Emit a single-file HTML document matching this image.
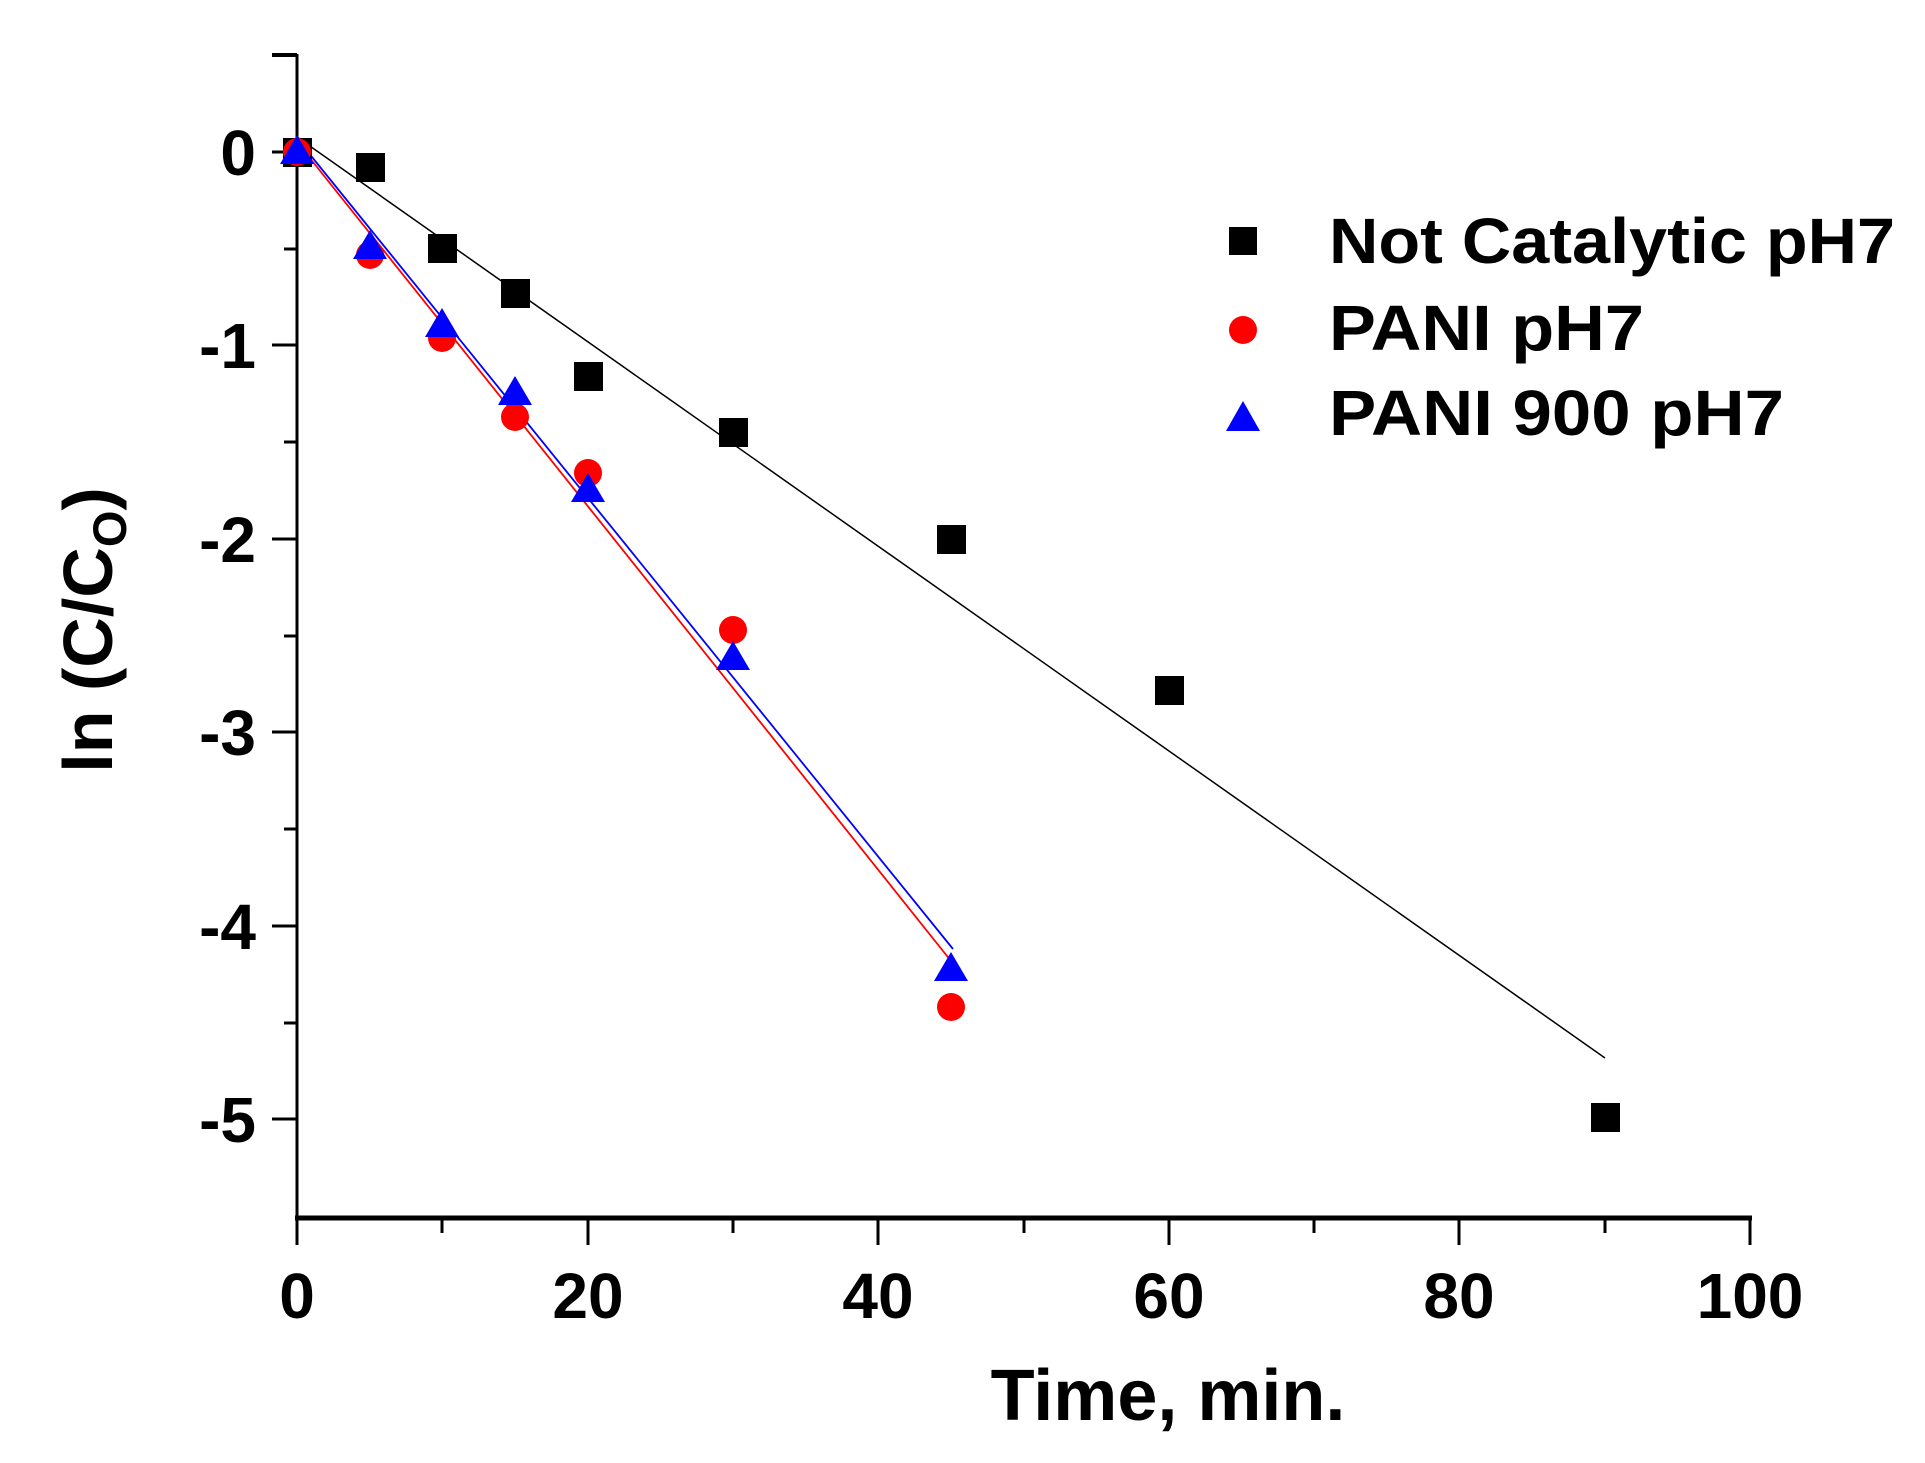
<!DOCTYPE html>
<html><head><meta charset="utf-8"><style>
html,body{margin:0;padding:0;background:#fff;}
svg{display:block;font-family:"Liberation Sans",Arial,sans-serif;font-weight:bold;}
</style></head><body>
<svg width="1925" height="1463" viewBox="0 0 1925 1463" xmlns="http://www.w3.org/2000/svg">
<rect width="1925" height="1463" fill="#fff"/>
<line x1="297" y1="54" x2="297" y2="1218" stroke="#000" stroke-width="3"/>
<line x1="295" y1="1218" x2="1752" y2="1218" stroke="#000" stroke-width="5"/>
<g stroke="#000" stroke-width="3">
<line x1="272" y1="55" x2="297" y2="55" stroke-width="4"/>
<line x1="272" y1="152" x2="297" y2="152"/>
<line x1="284" y1="249" x2="297" y2="249"/>
<line x1="272" y1="345" x2="297" y2="345"/>
<line x1="284" y1="442" x2="297" y2="442"/>
<line x1="272" y1="539" x2="297" y2="539"/>
<line x1="284" y1="636" x2="297" y2="636"/>
<line x1="272" y1="732" x2="297" y2="732"/>
<line x1="284" y1="829" x2="297" y2="829"/>
<line x1="272" y1="926" x2="297" y2="926"/>
<line x1="284" y1="1023" x2="297" y2="1023"/>
<line x1="272" y1="1119" x2="297" y2="1119"/>
<line x1="297" y1="1218" x2="297" y2="1245"/>
<line x1="442" y1="1218" x2="442" y2="1233"/>
<line x1="588" y1="1218" x2="588" y2="1245"/>
<line x1="733" y1="1218" x2="733" y2="1233"/>
<line x1="878" y1="1218" x2="878" y2="1245"/>
<line x1="1024" y1="1218" x2="1024" y2="1233"/>
<line x1="1169" y1="1218" x2="1169" y2="1245"/>
<line x1="1314" y1="1218" x2="1314" y2="1233"/>
<line x1="1459" y1="1218" x2="1459" y2="1245"/>
<line x1="1605" y1="1218" x2="1605" y2="1233"/>
<line x1="1750" y1="1218" x2="1750" y2="1245"/>
</g>
<g font-size="64" text-anchor="end">
<text x="256" y="175">0</text>
<text x="256" y="368">-1</text>
<text x="256" y="562">-2</text>
<text x="256" y="755">-3</text>
<text x="256" y="949">-4</text>
<text x="256" y="1142">-5</text>
</g>
<g font-size="64" text-anchor="middle">
<text x="297" y="1318">0</text>
<text x="588" y="1318">20</text>
<text x="878" y="1318">40</text>
<text x="1169" y="1318">60</text>
<text x="1459" y="1318">80</text>
<text x="1750" y="1318">100</text>
</g>
<text x="1168" y="1420" font-size="72" text-anchor="middle">Time, min.</text>
<text transform="translate(112,630) rotate(-90)" font-size="70" text-anchor="middle">ln (C/C<tspan font-size="47" dy="14">O</tspan><tspan dy="-14">)</tspan></text>
<line x1="297" y1="137" x2="1605" y2="1058" stroke="#000" stroke-width="1.5"/>
<line x1="297" y1="142" x2="951" y2="961" stroke="#f00" stroke-width="1.8"/>
<line x1="299" y1="141" x2="953" y2="949" stroke="#00f" stroke-width="1.8"/>
<g fill="#000">
<rect x="283" y="138" width="29" height="29"/>
<rect x="356" y="153" width="29" height="29"/>
<rect x="428" y="234" width="29" height="29"/>
<rect x="501" y="279" width="29" height="29"/>
<rect x="574" y="362" width="29" height="29"/>
<rect x="719" y="418" width="29" height="29"/>
<rect x="937" y="525" width="29" height="29"/>
<rect x="1155" y="676" width="29" height="29"/>
<rect x="1591" y="1103" width="29" height="29"/>
</g>
<g fill="#f00">
<circle cx="297" cy="152" r="14"/>
<circle cx="370" cy="255" r="14"/>
<circle cx="442" cy="338" r="14"/>
<circle cx="515" cy="417" r="14"/>
<circle cx="588" cy="473" r="14"/>
<circle cx="733" cy="630" r="14"/>
<circle cx="951" cy="1007" r="14"/>
</g>
<g fill="#00f">
<polygon points="297,135 280,164 314,164"/>
<polygon points="370,230 353,259 387,259"/>
<polygon points="442,308 425,337 459,337"/>
<polygon points="515,376 498,405 532,405"/>
<polygon points="588,473 571,502 605,502"/>
<polygon points="733,641 716,670 750,670"/>
<polygon points="951,952 934,981 968,981"/>
</g>
<rect x="1229" y="227" width="28" height="28" fill="#000"/>
<circle cx="1243" cy="330" r="14" fill="#f00"/>
<polygon points="1243,401 1226,431 1260,431" fill="#00f"/>
<g font-size="64">
<text x="1329" y="263" textLength="566" lengthAdjust="spacingAndGlyphs">Not Catalytic pH7</text>
<text x="1329" y="350" textLength="315" lengthAdjust="spacingAndGlyphs">PANI pH7</text>
<text x="1329" y="435" textLength="455" lengthAdjust="spacingAndGlyphs">PANI 900 pH7</text>
</g>
</svg>
</body></html>
